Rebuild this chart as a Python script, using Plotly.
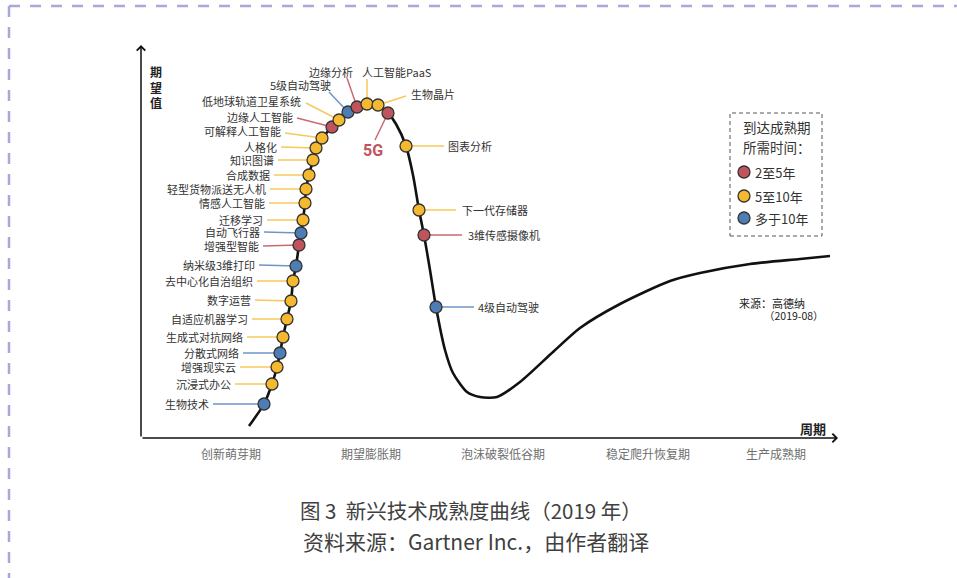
import plotly.graph_objects as go

# ---------------- data (chart units: origin at axis corner, x = time, y = expectation) -------------
tech_names = ["生物技术", "沉浸式办公", "增强现实云", "分散式网络", "生成式对抗网络",
              "自适应机器学习", "数字运营", "去中心化自治组织", "纳米级3维打印", "增强型智能",
              "自动飞行器", "迁移学习", "情感人工智能", "轻型货物派送无人机", "合成数据",
              "知识图谱", "人格化", "可解释人工智能", "边缘人工智能", "低地球轨道卫星系统",
              "5级自动驾驶", "边缘分析", "人工智能PaaS", "生物晶片", "5G",
              "图表分析", "下一代存储器", "3维传感摄像机", "4级自动驾驶"]
# r: 2-5 years, y: 5-10 years, b: >10 years
tech_cat = ["b", "y", "y", "b", "y", "y", "y", "y", "b", "r",
            "b", "y", "y", "y", "y", "y", "y", "y", "r", "y",
            "b", "r", "y", "y", "r", "y", "y", "r", "b"]
tech_x = [123, 131, 136, 139, 142, 146, 150, 152, 155, 158,
          160, 162, 164, 165, 168, 172, 175, 181, 191, 198,
          207, 216, 226, 237, 247, 265, 278, 283, 295]
tech_y = [34, 54, 71, 85, 101, 119, 137, 157, 172, 193,
          205, 218, 235, 249, 263, 278, 290, 300, 311, 318,
          326, 331, 334, 333, 325, 292, 228, 203, 131]

label_x = [70, 92, 97, 100, 104, 109, 112, 114, 116, 120,
           121, 124, 126, 127, 131, 135, 138, 142, 154, 162,
           159, 190, 256, 268, 232, 305, 319, 325, 335]
label_y = [34, 54, 71, 85, 101, 119, 138, 157, 173, 192,
           206, 218, 235, 249, 263, 278, 291, 307, 321, 337,
           353, 366, 366, 344, 288, 292, 228, 203, 131]
label_side = ["right"] * 20 + ["center", "center", "center", "left", "center",
                               "left", "left", "left", "left"]
leader_x = [72, 94, 99, 102, 106, 111, 114, 116, 118, 122,
            123, 126, 128, 129, 133, 137, 140, 144, 156, 165,
            188, 206, 226, 265, 234, 303, 315, 321, 333]
leader_y = [34, 54, 71, 85, 101, 119, 138, 157, 173, 192,
            206, 218, 235, 249, 263, 278, 291, 305, 320, 335,
            346, 360, 359, 342, 298, 292, 228, 203, 131]

curve_x = [108, 123, 131, 136, 139, 142, 146, 150, 152, 155, 158, 160, 162, 164, 165,
           168, 172, 175, 181, 191, 198, 207, 216, 226, 237, 247, 255, 265, 272, 278,
           283, 289, 295, 304, 312, 326, 339, 356, 379, 412, 439, 479, 529, 559, 609,
           659, 689]
curve_y = [12, 34, 54, 71, 85, 101, 119, 137, 157, 172, 193, 205, 218, 235, 249,
           263, 278, 290, 300, 311, 318, 326, 331, 334, 333, 325, 314, 292, 263, 228,
           203, 168, 131, 88, 65, 46, 41, 41, 56, 86, 110, 134, 157, 165, 174,
           179, 182]

phase_names = ["创新萌芽期", "期望膨胀期", "泡沫破裂低谷期", "稳定爬升恢复期", "生产成熟期"]
phase_x = [90, 230, 362, 507, 635]

legend_cats = ["r", "y", "b"]
legend_labels = ["2至5年", "5至10年", "多于10年"]

caption_lines = ["图 3  新兴技术成熟度曲线（2019 年）", "资料来源：Gartner Inc.，由作者翻译"]

# ---------------- styles -------------
CJK = "Noto Sans CJK SC, Noto Sans, sans-serif"
fill = {"r": "#c0545c", "y": "#f4b92f", "b": "#4d7db5"}
lead = {"r": "#c96a72", "y": "#f7c85a", "b": "#6f95c4"}

fig = go.Figure()

# curve
fig.add_trace(go.Scatter(x=curve_x, y=curve_y, mode="lines",
                         line=dict(color="#111111", width=2.6, shape="spline", smoothing=0.7),
                         hoverinfo="skip", showlegend=False))
# technology markers
fig.add_trace(go.Scatter(x=tech_x, y=tech_y, mode="markers",
                         marker=dict(size=12, color=[fill[c] for c in tech_cat],
                                     line=dict(color="#333333", width=1.3)),
                         text=tech_names, hoverinfo="text", showlegend=False))

shapes = []
annotations = []

# leader lines + labels
for i, name in enumerate(tech_names):
    c = tech_cat[i]
    shapes.append(dict(type="line", xref="x", yref="y", layer="below",
                       x0=leader_x[i], y0=leader_y[i], x1=tech_x[i], y1=tech_y[i],
                       line=dict(color=lead[c], width=1.5)))
    if name == "5G":
        annotations.append(dict(x=label_x[i], y=label_y[i], xref="x", yref="y", text="<b>5G</b>",
                                showarrow=False, xanchor="center", yanchor="middle",
                                font=dict(family="Liberation Sans Narrow, Roboto, sans-serif",
                                          size=16, color=fill["r"])))
    else:
        annotations.append(dict(x=label_x[i], y=label_y[i], xref="x", yref="y", text=name,
                                showarrow=False, xanchor=label_side[i], yanchor="middle",
                                font=dict(family=CJK, size=11, color="#333333")))

# axes with arrows
annotations.append(dict(x=697, y=0, ax=0, ay=0, xref="x", yref="y", axref="x", ayref="y",
                        text="", showarrow=True, arrowhead=4, arrowsize=1.1, arrowwidth=1.5,
                        arrowcolor="#111111", standoff=0, startstandoff=0))
annotations.append(dict(x=0, y=393, ax=0, ay=0, xref="x", yref="y", axref="x", ayref="y",
                        text="", showarrow=True, arrowhead=4, arrowsize=1.1, arrowwidth=1.5,
                        arrowcolor="#111111", standoff=0, startstandoff=0))

# axis titles
annotations.append(dict(x=15, y=351, xref="x", yref="y", text="<b>期<br>望<br>值</b>",
                        showarrow=False, font=dict(family=CJK, size=12, color="#222222")))
annotations.append(dict(x=672, y=10, xref="x", yref="y", text="<b>周期</b>", showarrow=False,
                        font=dict(family=CJK, size=13, color="#222222")))

# phase labels
for nm, px in zip(phase_names, phase_x):
    annotations.append(dict(x=px, y=-15, xref="x", yref="y", text=nm, showarrow=False,
                            font=dict(family=CJK, size=12, color="#6e6e6e")))

# legend box
shapes.append(dict(type="rect", xref="x", yref="y", x0=589, x1=681, y0=202, y1=325,
                   line=dict(color="#555555", width=1, dash="4px,3px"), fillcolor="rgba(0,0,0,0)"))
annotations.append(dict(x=600, y=311, xref="x", yref="y", text="到达成熟期", showarrow=False,
                        xanchor="left", font=dict(family=CJK, size=13.5, color="#333333")))
annotations.append(dict(x=600, y=291, xref="x", yref="y", text="所需时间：", showarrow=False,
                        xanchor="left", font=dict(family=CJK, size=13.5, color="#333333")))
legend_y = [266, 242, 220]
fig.add_trace(go.Scatter(x=[603] * 3, y=legend_y, mode="markers",
                         marker=dict(size=12, color=[fill[c] for c in legend_cats],
                                     line=dict(color="#333333", width=1.3)),
                         hoverinfo="skip", showlegend=False))
for lab, yy in zip(legend_labels, legend_y):
    annotations.append(dict(x=612, y=yy, xref="x", yref="y", text=lab, showarrow=False,
                            xanchor="left", font=dict(family=CJK, size=13, color="#333333")))

# source note
annotations.append(dict(x=596, y=135, xref="x", yref="y", text="来源：高德纳", showarrow=False,
                        xanchor="left", font=dict(family=CJK, size=11, color="#222222")))
annotations.append(dict(x=653, y=123, xref="x", yref="y", text="（2019-08）", showarrow=False,
                        xanchor="center", font=dict(family=CJK, size=10.5, color="#222222")))

# caption
annotations.append(dict(x=330, y=-72, xref="x", yref="y", text=caption_lines[0], showarrow=False,
                        font=dict(family=CJK, size=20.5, color="#404040")))
annotations.append(dict(x=335, y=-103, xref="x", yref="y", text=caption_lines[1], showarrow=False,
                        font=dict(family=CJK, size=21, color="#404040")))

# outer dashed frame
frame = dict(color="#a9a9d8", width=2.5, dash="11px,10px")
shapes.append(dict(type="line", xref="x", yref="y", x0=-132, y0=432, x1=816, y1=432, line=frame))
shapes.append(dict(type="line", xref="x", yref="y", x0=-132, y0=432, x1=-132, y1=-140, line=frame))

fig.update_layout(
    width=957, height=578, margin=dict(l=0, r=0, t=0, b=0),
    paper_bgcolor="white", plot_bgcolor="white",
    xaxis=dict(range=[-141, 816], visible=False, fixedrange=True),
    yaxis=dict(range=[-140, 438], visible=False, fixedrange=True),
    shapes=shapes, annotations=annotations, showlegend=False,
)

fig.write_html("out.html")
